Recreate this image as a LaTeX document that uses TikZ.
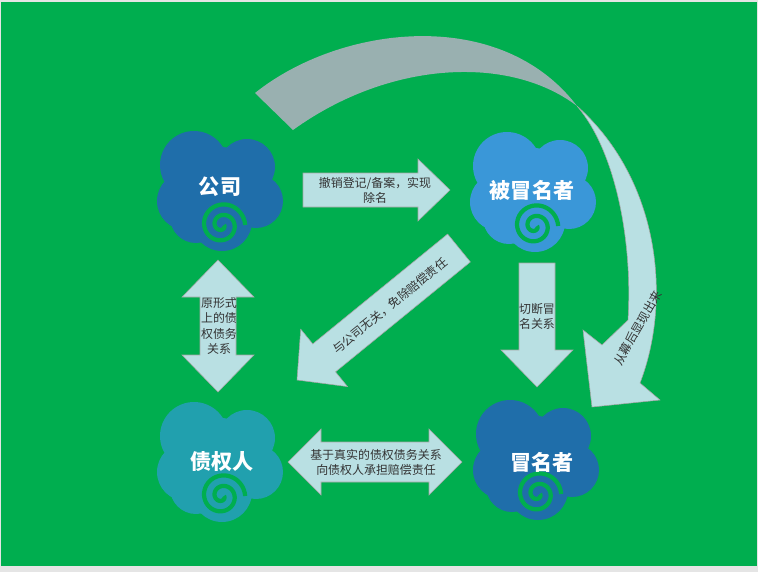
\documentclass[tikz,border=0pt]{standalone}
\usepackage{fontspec}
\setmainfont{Noto Sans CJK SC}
\usetikzlibrary{calc}
\definecolor{bggreen}{HTML}{00AE4F}
\definecolor{darkblue}{HTML}{1F6EAA}
\definecolor{lightblue}{HTML}{3A97D8}
\definecolor{teal}{HTML}{21A0AE}
\definecolor{arrowfill}{HTML}{B9E0E3}
\definecolor{arrowgray}{HTML}{99B0B0}
\tikzset{
  band/.style={fill=arrowfill, draw=gray!70, line width=0.3pt},
  title/.style={text=white, font=\bfseries\fontsize{12}{14}\selectfont},
  lbl/.style={text=black!80, font=\fontsize{6.8}{8.6}\selectfont, align=center, inner sep=0pt},
  swirl/.style={draw=bggreen, line width=2.4pt},
  cloudlet/.pic={
    \fill[pic actions] (0,0) circle (44) (-26,-26) circle (34) (27,-24) circle (28)
      (-34,10) circle (29) (36,10) circle (27) (2,30) circle (30) (-24,26) circle (26);
    \draw[swirl] plot[domain=0:720, samples=90, smooth]
      ({2+(2+\x/34)*cos(\x)},{34+(2+\x/34)*sin(\x)});
  }
}
% block arrow: from, to, shaft half, head half, head length (px)
\newcommand\barrow[5]{%
  \coordinate (ba1) at (#1); \coordinate (ba2) at (#2);
  \coordinate (bah) at ($(ba2)!{#5*0.02cm}!(ba1)$);
  \path[band] ($(ba1)!{#3*0.02cm}!90:(ba2)$) -- ($(bah)!{#3*0.02cm}!-90:(ba1)$)
    -- ($(bah)!{#4*0.02cm}!-90:(ba1)$) -- (ba2) -- ($(bah)!{#4*0.02cm}!90:(ba1)$)
    -- ($(bah)!{#3*0.02cm}!90:(ba1)$) -- ($(ba1)!{#3*0.02cm}!-90:(ba2)$) -- cycle;}
\newcommand\dbarrow[5]{%
  \coordinate (ba1) at (#1); \coordinate (ba2) at (#2);
  \coordinate (bah) at ($(ba2)!{#5*0.02cm}!(ba1)$);
  \coordinate (bat) at ($(ba1)!{#5*0.02cm}!(ba2)$);
  \path[band] (ba1) -- ($(bat)!{#4*0.02cm}!90:(ba2)$) -- ($(bat)!{#3*0.02cm}!90:(ba2)$)
    -- ($(bah)!{#3*0.02cm}!-90:(ba1)$) -- ($(bah)!{#4*0.02cm}!-90:(ba1)$) -- (ba2)
    -- ($(bah)!{#4*0.02cm}!90:(ba1)$) -- ($(bah)!{#3*0.02cm}!90:(ba1)$)
    -- ($(bat)!{#3*0.02cm}!-90:(ba2)$) -- ($(bat)!{#4*0.02cm}!-90:(ba2)$) -- cycle;}
\begin{document}
\begin{tikzpicture}[x=0.02cm, y=-0.02cm]
  % background
  \fill[black!10] (0,0) rectangle (758,572);
  \fill[bggreen] (1,2) rectangle (757,566);
  % clouds
  \pic[fill=darkblue] at (220,191) {cloudlet};
  \pic[fill=lightblue] at (533,192) {cloudlet};
  \pic[fill=teal] at (220,462) {cloudlet};
  \pic[fill=darkblue] at (536,460) {cloudlet};
  \node[title] (company) at (220,187) {公司};
  \node[title] (victim) at (532,190) {被冒名者};
  \node[title] (creditor) at (222,462) {债权人};
  \node[title] (impostor) at (542,462) {冒名者};
  % curved ribbon
  \fill[arrowgray] (255,93) .. controls (340,25) and (500,5) .. (577,106)
    .. controls (510,55) and (390,60) .. (293,130) -- cycle;
  \path[band] (577,106) .. controls (615,150) and (633,240) .. (628,320)
    -- (602,345) -- (583,330) -- (592,407) -- (660,400) -- (640,383)
    .. controls (672,300) and (660,180) .. (577,106) -- cycle;
  % straight arrows
  \coordinate (a1s) at (303,190); \coordinate (a1e) at (450,190);
  \barrow{a1s}{a1e}{17}{31}{32}
  \coordinate (a2s) at (459,248); \coordinate (a2e) at (297,380);
  \barrow{a2s}{a2e}{18}{37}{35}
  \coordinate (a3s) at (218,260); \coordinate (a3e) at (218,392);
  \dbarrow{a3s}{a3e}{18}{36}{37}
  \coordinate (a4s) at (537,263); \coordinate (a4e) at (537,387);
  \barrow{a4s}{a4e}{18}{36}{37}
  \coordinate (a5s) at (288,462); \coordinate (a5e) at (462,462);
  \dbarrow{a5s}{a5e}{20}{33}{33}
  % labels
  \node[lbl] (l1) at (375,190) {撤销登记/备案，实现\\除名};
  \node[lbl, rotate=39] (l2) at (390,306) {与公司无关，免除赔偿责任};
  \node[lbl] (l3) at (219,326) {原形式\\上的债\\权债务\\关系};
  \node[lbl] (l4) at (537,316) {切断冒\\名关系};
  \node[lbl] (l5) at (376,462) {基于真实的债权债务关系\\向债权人承担赔偿责任};
  \node[lbl, rotate=60] (l6) at (638,328) {从幕后显现出来};
\end{tikzpicture}
\end{document}
